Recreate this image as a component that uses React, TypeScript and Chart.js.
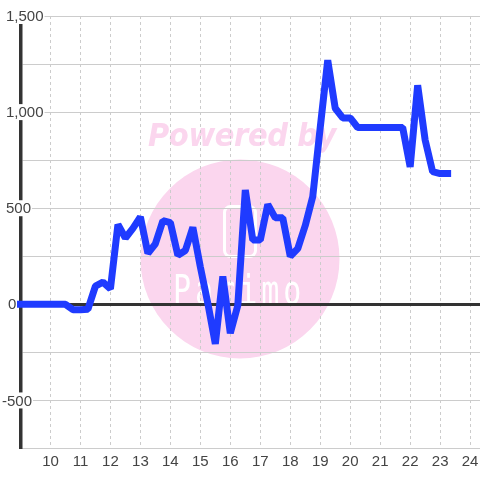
import React, { useEffect, useRef } from "react";
import { Chart, registerables } from "chart.js";

Chart.register(...registerables);

const hours = [
  9, 9.25, 9.5, 9.75, 10, 10.25, 10.5, 10.75, 11, 11.25, 11.5, 11.75,
  12, 12.25, 12.5, 12.75, 13, 13.25, 13.5, 13.75, 14, 14.25, 14.5, 14.75,
  15, 15.25, 15.5, 15.75, 16, 16.25, 16.5, 16.75, 17, 17.25, 17.5, 17.75,
  18, 18.25, 18.5, 18.75, 19, 19.25, 19.5, 19.75, 20, 20.25, 20.5, 20.75,
  21, 21.25, 21.5, 21.75, 22, 22.25, 22.5, 22.75, 23, 23.25,
];
const values = [
  0, 0, 0, 0, 0, 0, 0, -28, -28, -25, 95, 115,
  80, 415, 345, 395, 455, 265, 315, 435, 425, 255, 280, 400,
  195, 5, -205, 145, -150, -5, 595, 335, 335, 520, 450, 450,
  250, 290, 410, 560, 920, 1270, 1020, 970, 970, 920, 920, 920,
  920, 920, 920, 920, 715, 1140, 855, 690, 680, 680,
];
const xTicks = [10, 11, 12, 13, 14, 15, 16, 17, 18, 19, 20, 21, 22, 23, 24];
const yTicks = [-750, -500, -250, 0, 250, 500, 750, 1000, 1250, 1500];
const yMin = -750;
const yMax = 1500;
const xMin = 9;
const xMax = 24.33;
const watermarkTitle = "Powered by";
const watermarkName = "Parimo";

const watermark = {
  id: "watermark",
  beforeDraw(chart: any) {
    const ctx = chart.ctx;
    ctx.save();
    ctx.fillStyle = "#fbd6ee";
    ctx.beginPath();
    ctx.arc(240, 259, 99.5, 0, Math.PI * 2);
    ctx.fill();
    ctx.textBaseline = "alphabetic";
    ctx.textAlign = "left";
    ctx.save();
    ctx.translate(148, 145.5);
    ctx.scale(1, 1.08);
    ctx.font = "italic bold 29px 'DejaVu Sans'";
    ctx.letterSpacing = "-0.4px";
    ctx.fillText(watermarkTitle, 0, 0);
    ctx.restore();
    ctx.strokeStyle = "#ffffff";
    ctx.lineWidth = 3;
    ctx.beginPath();
    ctx.roundRect(224.5, 206.5, 31, 50, 6);
    ctx.stroke();
    ctx.save();
    ctx.translate(173, 304);
    ctx.scale(1, 1.35);
    ctx.fillStyle = "#ffffff";
    ctx.font = "30px 'DejaVu Sans Mono'";
    ctx.letterSpacing = "4px";
    ctx.fillText(watermarkName, 0, 0);
    ctx.restore();
    ctx.restore();
  },
};

// Puts the value labels of the y axis where the reference has them, across the axis line.
function placeYLabels(s: any) {
  if (s.__placed) return;
  s.__placed = true;
  const compute = s._computeLabelItems;
  s._computeLabelItems = function (area: any) {
    const items = compute.call(s, area);
    for (const item of items) {
      const o = item.options;
      const left = item.label === "0" ? 8 : item.label === "-500" ? 2 : 6;
      const y = o.translation[1];
      o.translation = [left, y + 1];
      if (o.backdrop) {
        // the backdrop is drawn relative to the translated label
        o.backdrop.left = 0;
        o.backdrop.top = -9;
        o.backdrop.height = 16;
        o.backdrop.width = item.label === "" ? 0 : o.backdrop.width + 1;
      }
    }
    return items;
  };
}

export default function App() {
  const ref = useRef<HTMLCanvasElement>(null);
  useEffect(() => {
    const chart = new Chart(ref.current!, {
      type: "line",
      data: {
        datasets: [
          {
            data: hours.map((h, i) => ({ x: h, y: values[i] })),
            borderColor: "#1f3bff",
            borderWidth: 7,
            borderCapStyle: "square",
            borderJoinStyle: "bevel",
            pointRadius: 0,
            tension: 0,
            clip: false,
          },
        ],
      },
      plugins: [watermark],
      options: {
        animation: false,
        responsive: false,
        devicePixelRatio: 1,
        layout: { autoPadding: false, padding: { top: 16, right: 0, bottom: 0, left: 0 } },
        plugins: { legend: { display: false }, tooltip: { enabled: false } },
        scales: {
          x: {
            type: "linear",
            min: xMin,
            max: xMax,
            afterFit: (s: any) => {
              s.height = 31.5;
              s.paddingLeft = 0;
              s.paddingRight = 0;
            },
            afterBuildTicks: (s: any) => {
              s.ticks = xTicks.map((value) => ({ value }));
            },
            border: { display: true, color: "#cccccc", width: 1, dash: [3, 3] },
            grid: { color: "#cccccc", lineWidth: 1, drawTicks: false },
            ticks: {
              color: "#444444",
              font: { family: "'Liberation Sans'", size: 15 },
              padding: 4,
              maxRotation: 0,
              autoSkip: false,
            },
          },
          y: {
            min: yMin,
            max: yMax,
            afterFit: (s: any) => {
              s.width = 20.5;
              s.paddingTop = 0;
              s.paddingBottom = 0;
            },
            afterUpdate: placeYLabels,
            afterBuildTicks: (s: any) => {
              s.ticks = yTicks.map((value) => ({ value }));
            },
            border: { display: true, color: "#333333", width: 3.5 },
            grid: {
              color: (c: any) => (c.tick?.value === 0 ? "#333333" : "#cccccc"),
              lineWidth: (c: any) => (c.tick?.value === 0 ? 3 : 1),
              drawTicks: false,
            },
            ticks: {
              color: "#444444",
              font: { family: "'Liberation Sans'", size: 15 },
              mirror: true,
              padding: -14,
              autoSkip: false,
              showLabelBackdrop: true,
              backdropColor: "#ffffff",
              backdropPadding: 0,
              callback: (v: any) => {
                if (v % 500 !== 0) return "";
                return Number(v).toLocaleString("en-US");
              },
            } as any,
          },
        },
      },
    } as any);
    return () => chart.destroy();
  }, []);
  return (
    <canvas
      ref={ref}
      width={480}
      height={480}
      style={{ position: "fixed", left: 0, top: 0, width: 480, height: 480, background: "#ffffff" }}
    />
  );
}
